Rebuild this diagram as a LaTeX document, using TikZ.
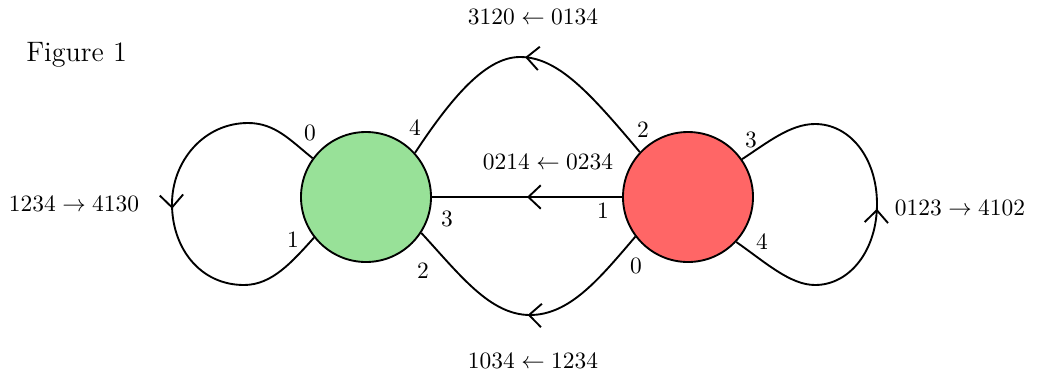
\documentclass[tikz,border=0pt]{standalone}
\usetikzlibrary{arrows.meta,decorations.markings}
\definecolor{gfill}{RGB}{152,225,152}
\definecolor{rfill}{RGB}{255,102,102}
\tikzset{
  state/.style={circle,draw,line width=0.8pt,minimum size=1.95cm,inner sep=0pt},
  edge/.style={line width=0.8pt,postaction={decorate},
    decoration={markings,mark=at position 0.5 with {\arrow{Straight Barb[length=5.3pt,width=10pt,line width=0.8pt]}}}},
  lab/.style={inner sep=1pt},
}
\begin{document}
\begin{tikzpicture}[x=0.015cm,y=-0.015cm]
\useasboundingbox (0,0) rectangle (1038,378);
\node[state,fill=gfill] (g) at (366,197) {};
\node[state,fill=rfill] (r) at (688,197) {};
% middle edge
\draw[edge] (r.west) -- (g.east);
% top arc
\draw[edge] (r.137) .. controls (590,93) and (558,57) .. (520,57)
  .. controls (488,57) and (455,92) .. (g.42);
% bottom arc
\draw[edge] (r.217) .. controls (600,278) and (570,315) .. (530,315)
  .. controls (490,315) and (460,275) .. (g.-33);
% left loop
\draw[edge] (g.144) .. controls (290,140) and (275,123) .. (248,123)
  .. controls (204,123) and (172,161) .. (172,204)
  .. controls (172,248) and (200,285) .. (244,285)
  .. controls (272,285) and (292,262) .. (g.218);
% right loop
\draw[edge] (r.-43) .. controls (765,262) and (790,285) .. (815,285)
  .. controls (850,285) and (877,250) .. (877,204)
  .. controls (877,158) and (850,124) .. (815,124)
  .. controls (790,124) and (767,143) .. (r.35);
% port labels
\node[lab] (g0) at (310,133) {0};
\node[lab] (g4) at (415,128) {4};
\node[lab] (g3) at (447,219) {3};
\node[lab] (g2) at (423,271) {2};
\node[lab] (g1) at (293,240) {1};
\node[lab] (r2) at (643,130) {2};
\node[lab] (r3) at (751,140) {3};
\node[lab] (r1) at (603,211) {1};
\node[lab] (r4) at (762,242) {4};
\node[lab] (r0) at (636,266) {0};
% edge labels
\node (ltop) at (533,17) {$3120 \leftarrow 0134$};
\node (lmid) at (548,162) {$0214 \leftarrow 0234$};
\node (lbot) at (533,361) {$1034 \leftarrow 1234$};
\node (lleft) at (74,204) {$1234 \rightarrow 4130$};
\node (lright) at (960,208) {$0123 \rightarrow 4102$};
\node[anchor=west,font=\large] (fig) at (18,55) {Figure 1};
\end{tikzpicture}
\end{document}
